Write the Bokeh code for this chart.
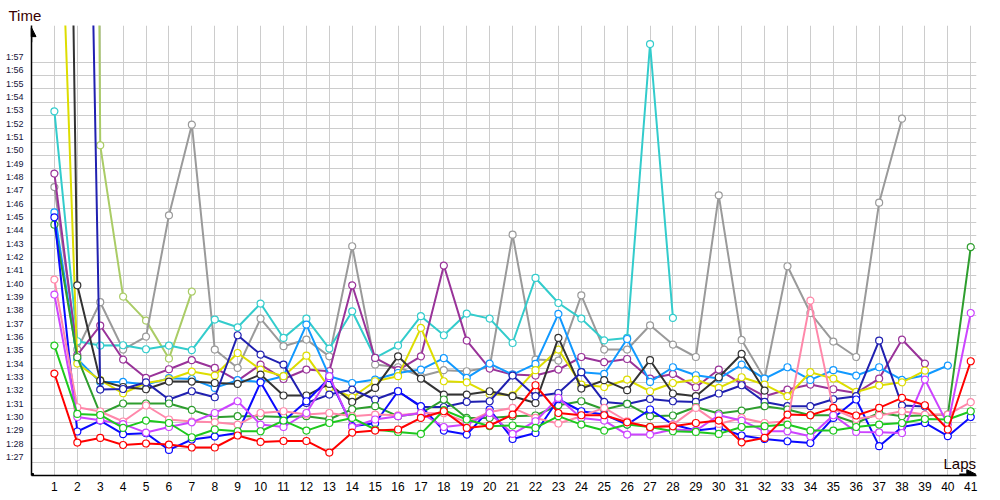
from bokeh.plotting import figure
from bokeh.models import FixedTicker, Range1d, Arrow, NormalHead, Label, ColumnDataSource
from bokeh.embed import file_html
from bokeh.resources import INLINE

nan = float("nan")
laps = list(range(1, 42))
y_ticks = list(range(87, 118))
y_label_pos = [round(v + 0.4, 1) for v in y_ticks]
y_labels = {pos: "1:%02d" % (v - 60) for v, pos in zip(y_ticks, y_label_pos)}

red = [93.65, 88.47, 88.82, 88.29, 88.40, 88.32, 88.10, 88.10, 89.00, 88.52,
       88.59, 88.59, 87.72, 89.22, 89.37, 89.45, 90.32, 90.82, 89.57, 89.75,
       90.57, 92.77, 90.69, 90.52, 90.52, 89.99, 89.64, 89.69, 89.94, 90.12,
       88.49, 88.82, 90.57, 90.52, 91.07, 90.50, 91.07, 91.82, 91.27, 89.45, 94.57]
green = [95.75, 90.62, 90.54, 89.57, 90.12, 89.94, 88.87, 89.45, 89.32, 89.32,
         90.12, 89.37, 89.94, 90.32, 89.45, 89.27, 89.12, 90.9, 90.2, 89.7,
         89.75, 89.57, 90.45, 89.82, 89.37, 89.82, 89.64, 89.32, 89.27, 89.12,
         89.64, 89.7, 89.82, 89.37, 89.37, 89.64, 89.82, 89.94, 90.24, 90.2, 90.82]
dgreen = [104.82, 94.87, 90.62, 91.4, 91.4, 91.4, 90.92, 90.37, 90.45, 90.45,
          90.39, 90.45, 90.22, 90.97, 91.2, 90.45, 90.67, 91.7, 90.32, 90.32,
          90.45, 90.5, 91.27, 91.57, 90.95, 91.37, 90.45, 90.5, 91.14, 90.65,
          90.87, 91.2, 90.95, 90.52, 90.52, 89.94, 90.69, 90.45, 90.52, 90.57, 103.14]
blue = [105.37, 89.3, 90.12, 89.1, 89.17, 87.92, 88.7, 88.92, 89.19, 92.99,
        90.07, 91.57, 93.3, 89.7, 89.92, 92.32, 91.2, 89.37, 89.07, 90.95,
        88.74, 89.19, 91.72, 90.82, 90.57, 89.82, 90.95, 89.82, 89.37, 89.57,
        89.0, 88.74, 88.57, 88.44, 90.32, 91.7, 88.2, 89.64, 89.94, 88.95, 90.39]
pink = [100.7, 91.12, 90.8, 90.05, 91.25, 90.2, 90.05, 89.99, 89.82, 90.69,
        90.82, 90.57, 90.69, 90.45, 90.57, 90.52, 90.69, 90.67, 89.99, 90.77,
        91.07, 90.32, 89.9, 90.45, 91.07, 90.07, 89.57, 89.82, 91.07, 89.87,
        90.32, 89.94, 90.07, 99.12, 91.0, 90.24, 90.5, 90.82, 90.57, 90.57, 91.5]
magenta = [99.57, 90.39, 90.15, 89.85, 89.22, 89.64, 89.99, 90.69, 91.57, 89.82,
           89.64, 90.69, 93.45, 89.64, 90.2, 90.45, 90.69, 89.64, 89.82, 90.69,
           89.12, 90.07, 91.82, 90.32, 90.12, 89.07, 89.07, 89.45, 89.37, 90.52,
           90.12, 89.32, 89.32, 88.94, 90.52, 89.27, 89.24, 89.19, 93.2, 89.82, 98.19]
purple = [108.65, 95.04, 97.25, 94.7, 93.32, 93.97, 94.65, 94.07, 93.12, 94.32,
          93.24, 93.95, 93.82, 100.27, 94.82, 93.9, 94.94, 101.75, 96.12, 94.02,
          93.57, 93.5, 93.95, 94.89, 94.5, 94.74, 93.27, 93.62, 92.62, 93.95,
          92.87, 91.95, 92.45, 92.82, 92.47, 92.19, 93.27, 96.2, 94.4, nan, nan]
gray = [107.64, 95.45, 99.0, 95.45, 96.42, 105.52, 112.32, 95.45, 94.07, 97.77,
        95.7, 96.2, 94.94, 103.2, 94.32, 94.12, 93.45, 93.9, 93.82, 94.12,
        104.07, 94.7, 94.62, 99.52, 95.45, 95.45, 97.27, 95.82, 94.89, 107.02,
        96.17, 93.27, 101.7, 98.19, 96.05, 94.89, 106.47, 112.77, nan, nan, nan]
cyan = [113.32, 96.07, 95.75, 95.77, 95.47, 95.75, 95.4, 97.7, 97.12, 98.9,
        96.32, 97.77, 95.52, 98.32, 94.82, 95.75, 97.95, 96.52, 98.15, 97.77,
        95.94, 100.82, 98.94, 97.77, 96.14, 96.32, 118.37, 97.82,
        nan, nan, nan, nan, nan, nan, nan, nan, nan, nan, nan, nan, nan]
lblue = [105.74, 94.74, 93.02, 93.02, 92.82, 93.3, 93.24, 92.57, 93.15, 93.02,
         93.45, 97.32, 93.45, 92.94, 93.2, 93.69, 93.95, 94.8, 93.32, 94.4,
         93.57, 94.37, 98.12, 93.75, 93.62, 96.24, 93.02, 94.12, 93.52, 93.27,
         94.32, 93.27, 94.12, 93.17, 93.9, 93.5, 94.12, 93.17, 93.52, 94.25, nan]
yellow = [143.0, 94.4, 93.15, 92.17, 92.94, 93.22, 93.8, 93.5, 95.19, 93.95,
          93.45, 94.99, 92.57, 91.87, 93.07, 93.45, 97.07, 93.07, 92.99, 92.12,
          92.02, 93.9, 95.45, 92.82, 92.64, 93.2, 92.32, 92.94, 93.2, 92.57,
          93.37, 92.82, 91.95, 93.75, 93.27, 92.27, 92.75, 92.99, 93.87, nan, nan]
black = [217.0, 100.27, 93.12, 92.64, 92.47, 93.05, 93.05, 92.94, 92.87, 93.57,
         92.0, 92.0, 92.87, 91.52, 92.57, 94.94, 93.27, 92.07, 92.07, 92.32,
         91.95, 91.44, 96.32, 92.52, 93.15, 92.4, 94.65, 92.15, 91.95, 93.37,
         95.12, 92.37, nan, nan, nan, nan, nan, nan, nan, nan, nan]
navy = [190.0, 184.0, 92.45, 92.49, 92.99, 91.7, 92.32, 91.87, 96.52, 95.07,
        94.32, 91.44, 92.07, 92.45, 91.7, 92.32, 91.14, 91.14, 91.52, 91.57,
        93.5, 91.95, 92.19, 93.75, 91.52, 91.37, 91.74, 91.57, 91.52, 92.15,
        92.77, 91.52, 91.2, 91.2, 91.72, 91.95, 96.12, 91.25, 91.17, nan, nan]
ygreen = [360.0, 360.0, 110.77, 99.42, 97.62, 94.77, 99.8] + [nan] * 34

series = [
    (ygreen, "#aacc66"),
    (gray, "#9a9a9a"),
    (cyan, "#33cccc"),
    (purple, "#993399"),
    (lblue, "#1199ff"),
    (yellow, "#dddd00"),
    (black, "#333333"),
    (navy, "#2020b0"),
    (dgreen, "#2e9e2e"),
    (blue, "#0a0aff"),
    (pink, "#ff88aa"),
    (magenta, "#cc44ff"),
    (green, "#1ec81e"),
    (red, "#ff0000"),
]

p = figure(width=1000, height=500, output_backend="svg", toolbar_location=None,
           x_range=Range1d(0, 41.25), y_range=Range1d(86, 119.76),
           min_border_left=31, min_border_right=24, min_border_top=25,
           min_border_bottom=25, title="Time")
p.outline_line_color = None
p.background_fill_color = "white"
p.border_fill_color = "white"

p.title.text_font = "Liberation Sans"
p.title.text_font_size = "15px"
p.title.text_font_style = "normal"
p.title.text_color = "#3a0000"
p.title.align = "left"
p.title.offset = -23
p.title.standoff = 3

p.xaxis.ticker = FixedTicker(ticks=laps)
p.yaxis.ticker = FixedTicker(ticks=y_label_pos)
p.yaxis.major_label_overrides = y_labels
p.xgrid.ticker = FixedTicker(ticks=laps)
p.ygrid.ticker = FixedTicker(ticks=y_ticks)
for g in (p.xgrid, p.ygrid):
    g.grid_line_color = "#cccccc"
    g.grid_line_width = 1

for ax in (p.xaxis, p.yaxis):
    ax.axis_line_color = "black"
    ax.axis_line_width = 1.5
    ax.major_tick_in = 0
    ax.major_tick_out = 0
    ax.minor_tick_in = 0
    ax.minor_tick_out = 0

p.xaxis.major_label_text_font = "Liberation Sans"
p.xaxis.major_label_text_font_size = "12px"
p.xaxis.major_label_text_color = "black"
p.xaxis.major_label_standoff = 6
p.yaxis.major_label_text_font = "Liberation Sans"
p.yaxis.major_label_text_font_size = "9px"
p.yaxis.major_label_text_color = "#14143a"
p.yaxis.major_label_standoff = 8

for vals, col in series:
    src = ColumnDataSource(dict(x=laps, y=vals))
    p.line("x", "y", source=src, line_color=col, line_width=2)
    p.scatter("x", "y", source=src, marker="circle", size=7, fill_color="white",
              line_color=col, line_width=1.2)

head_y = NormalHead(size=9, fill_color="black", line_color="black")
p.add_layout(Arrow(end=head_y, x_start=0, y_start=118.5, x_end=0, y_end=119.6,
                   line_color="black", line_width=1.5))
head_x = NormalHead(size=9, fill_color="black", line_color="black")
p.add_layout(Arrow(end=head_x, x_start=40.5, y_start=86.1, x_end=41.22, y_end=86.1,
                   line_color="black", line_width=1.5))
p.scatter(x=[0], y=[86], marker="square", size=4, color="black")

p.add_layout(Label(x=39.81, y=86, y_offset=12, text="Laps",
                   text_font="Liberation Sans", text_font_size="15px",
                   text_color="#1a0000", text_align="left",
                   text_baseline="alphabetic"))

open("out.html", "w").write(file_html(p, INLINE))
